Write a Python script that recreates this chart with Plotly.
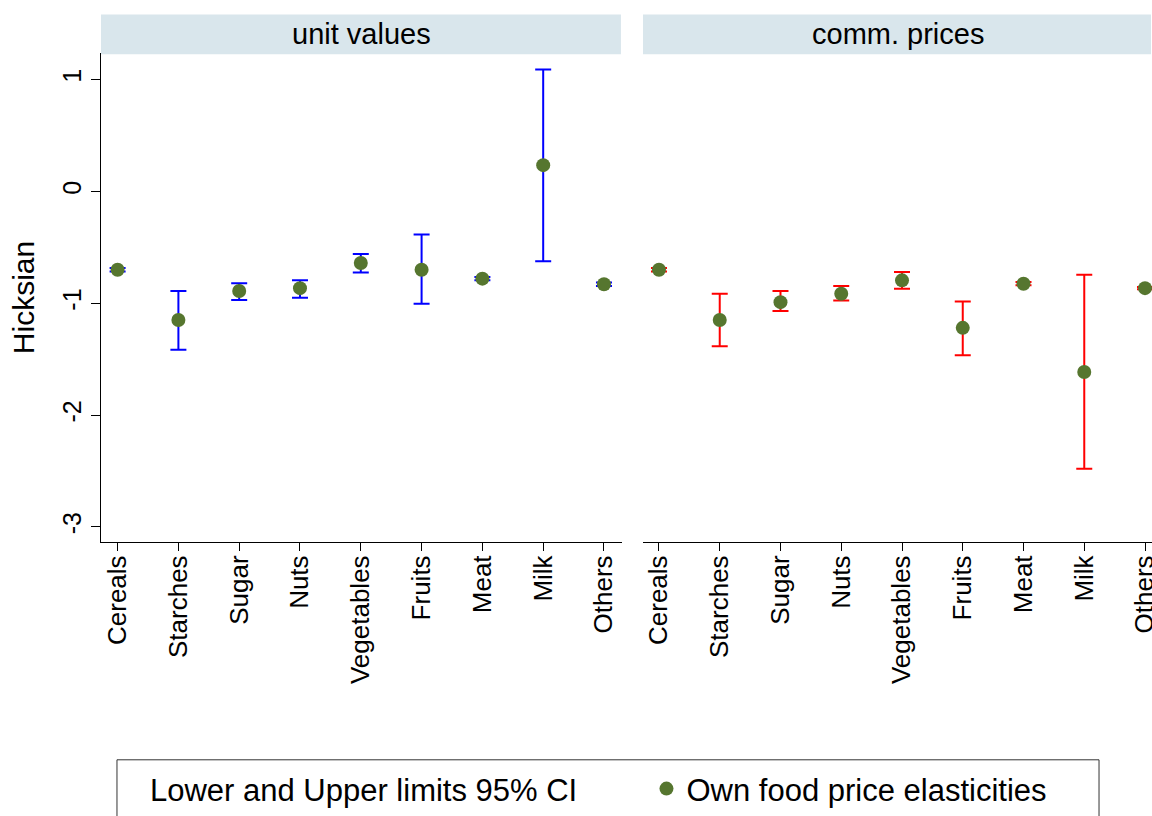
import plotly.graph_objects as go


FONT = "Liberation Sans, Arial, sans-serif"
DOT_COLOR = "#56762f"
STRIP_COLOR = "#d9e6ec"

categories = ["Cereals", "Starches", "Sugar", "Nuts", "Vegetables",
              "Fruits", "Meat", "Milk", "Others"]

# unit values panel
uv_est = [-0.70, -1.15, -0.89, -0.865, -0.64, -0.70, -0.78, 0.235, -0.83]
uv_low = [-0.715, -1.415, -0.97, -0.95, -0.725, -1.005, -0.795, -0.625, -0.845]
uv_high = [-0.685, -0.89, -0.82, -0.795, -0.56, -0.385, -0.765, 1.09, -0.815]

# commodity prices panel
cp_est = [-0.70, -1.15, -0.99, -0.915, -0.795, -1.22, -0.825, -1.615, -0.865]
cp_low = [-0.715, -1.385, -1.07, -0.975, -0.87, -1.465, -0.84, -2.48, -0.875]
cp_high = [-0.685, -0.915, -0.89, -0.845, -0.72, -0.985, -0.81, -0.745, -0.855]

y_ticks = [-3, -2, -1, 0, 1]
y_tick_labels = ["-3", "-2", "-1", "0", "1"]

panels = [
    ("unit values", uv_est, uv_low, uv_high, "blue", "x", "y"),
    ("comm. prices", cp_est, cp_low, cp_high, "red", "x2", "y2"),
]

fig = go.Figure()

for i, (title, est, low, high, ci_color, xa, ya) in enumerate(panels):
    x_idx = list(range(len(categories)))
    fig.add_trace(
        go.Scatter(
            x=x_idx,
            y=est,
            xaxis=xa,
            yaxis=ya,
            mode="markers",
            name="Lower and Upper limits 95% CI",
            marker={"size": 14, "color": "rgba(0,0,0,0)"},
            error_y={
                "type": "data",
                "symmetric": False,
                "array": [h - e for h, e in zip(high, est)],
                "arrayminus": [e - l for e, l in zip(est, low)],
                "color": ci_color,
                "thickness": 2,
                "width": 8,
            },
            showlegend=(i == 0),
            legend="legend",
            hoverinfo="skip",
        )
    )
    fig.add_trace(
        go.Scatter(
            x=x_idx,
            y=est,
            xaxis=xa,
            yaxis=ya,
            mode="markers",
            name="Own food price elasticities",
            marker={"size": 14, "color": DOT_COLOR},
            showlegend=(i == 0),
            legend="legend2",
        )
    )

# facet strips
for xref, title in [("x domain", "unit values"), ("x2 domain", "comm. prices")]:
    fig.add_shape(
        type="rect", xref=xref, yref="paper",
        x0=0, x1=0.998, y0=0.9975, y1=1.0788,
        fillcolor=STRIP_COLOR, line_width=0, layer="below",
    )
    fig.add_annotation(
        text=title, xref=xref, yref="paper", x=0.5, y=1.038,
        showarrow=False, font={"size": 29, "color": "black"},
        xanchor="center", yanchor="middle",
    )

# legend frame
fig.add_shape(
    type="rect", xref="paper", yref="paper",
    x0=0.0152, x1=0.9496, y0=-0.4454, y1=-0.62,
    line={"color": "#333333", "width": 1}, fillcolor="rgba(0,0,0,0)",
)

x_common = dict(
    tickmode="array",
    tickvals=list(range(len(categories))),
    ticktext=categories,
    tickangle=-90,
    ticks="outside",
    ticklen=8,
    tickcolor="black",
    ticklabelstandoff=-6,
    ticklabeloverflow="allow",
    showline=True,
    linecolor="black",
    linewidth=1,
    showgrid=False,
    zeroline=False,
    automargin=False,
    tickfont={"size": 26, "color": "black"},
)

legend_common = dict(
    orientation="h",
    xanchor="left",
    y=-0.505,
    yanchor="middle",
    font={"size": 31, "color": "black"},
    bgcolor="rgba(0,0,0,0)",
)

fig.update_layout(
    width=1152,
    height=816,
    paper_bgcolor="white",
    plot_bgcolor="white",
    font={"family": FONT, "color": "black"},
    margin=dict(l=101, r=0, t=53, b=272),
    xaxis=dict(domain=[0, 0.4957], range=[-0.273, 8.296], anchor="y", **x_common),
    xaxis2=dict(domain=[0.5157, 1], range=[-0.263, 8.115], anchor="y2", **x_common),
    yaxis=dict(
        range=[-3.135, 1.238],
        tickmode="array",
        tickvals=y_ticks,
        ticktext=y_tick_labels,
        tickangle=-90,
        ticks="outside",
        ticklen=9,
        tickcolor="black",
        showline=True,
        linecolor="black",
        linewidth=1,
        showgrid=False,
        zeroline=False,
        automargin=False,
        tickfont={"size": 25, "color": "black"},
        title={"text": "Hicksian", "font": {"size": 30}, "standoff": 14},
        anchor="x",
    ),
    yaxis2=dict(
        matches="y",
        anchor="x2",
        showline=False,
        showticklabels=False,
        ticks="",
        showgrid=False,
        zeroline=False,
        automargin=False,
    ),
    legend=dict(x=0.0085, **legend_common),
    legend2=dict(x=0.519, **legend_common),
    showlegend=True,
)

# page margin off so the 1152x816 figure fills the window exactly
fig.write_html(
    "out.html",
    config={"displayModeBar": False},
    post_script="document.body.style.margin='0';document.body.style.overflow='hidden';",
)
